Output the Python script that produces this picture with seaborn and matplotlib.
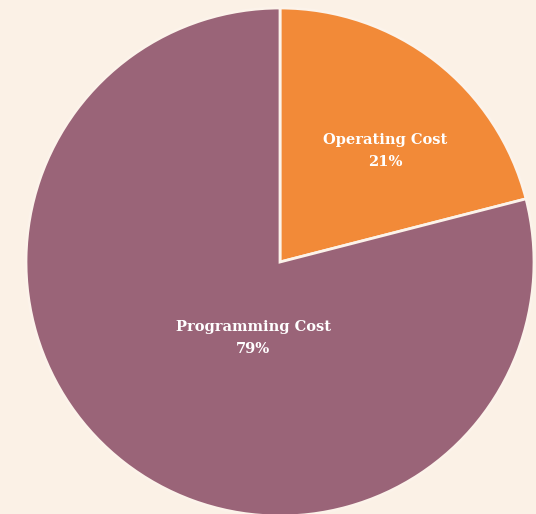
import matplotlib
matplotlib.use("Agg")
import matplotlib.pyplot as plt
import seaborn as sns

categories = ["Operating Cost", "Programming Cost"]
shares = [21, 79]
colors = ["#F28A38", "#9A6478"]
label_pos = [(0.413, 0.437), (-0.106, -0.299)]

sns.set_theme(style="white")
plt.rcParams['font.family'] = ['DejaVu Serif']

bg = "#FBF1E6"
fig = plt.figure(figsize=(5.36, 5.14), dpi=100, facecolor=bg)
ax = fig.add_axes([0, 0, 1, 1])
ax.set_facecolor(bg)

scale = 254.0
cx, cy = 280.0, 262.0
W, H = 536.0, 514.0

ax.pie(shares, colors=colors, startangle=90, counterclock=False,
       radius=1.0, center=(0, 0),
       wedgeprops=dict(edgecolor="#FCF3EA", linewidth=2))

for cat, val, (x, y) in zip(categories, shares, label_pos):
    ax.text(x, y, f"{cat}\n{val}%", ha="center", va="center", color="white",
            fontsize=10.5, fontweight="bold", linespacing=1.75)

ax.set_xlim(-cx / scale, (W - cx) / scale)
ax.set_ylim(-(H - cy) / scale, cy / scale)
ax.set_aspect("equal")
ax.axis("off")

fig.savefig("out.png", dpi=100, facecolor=bg)
